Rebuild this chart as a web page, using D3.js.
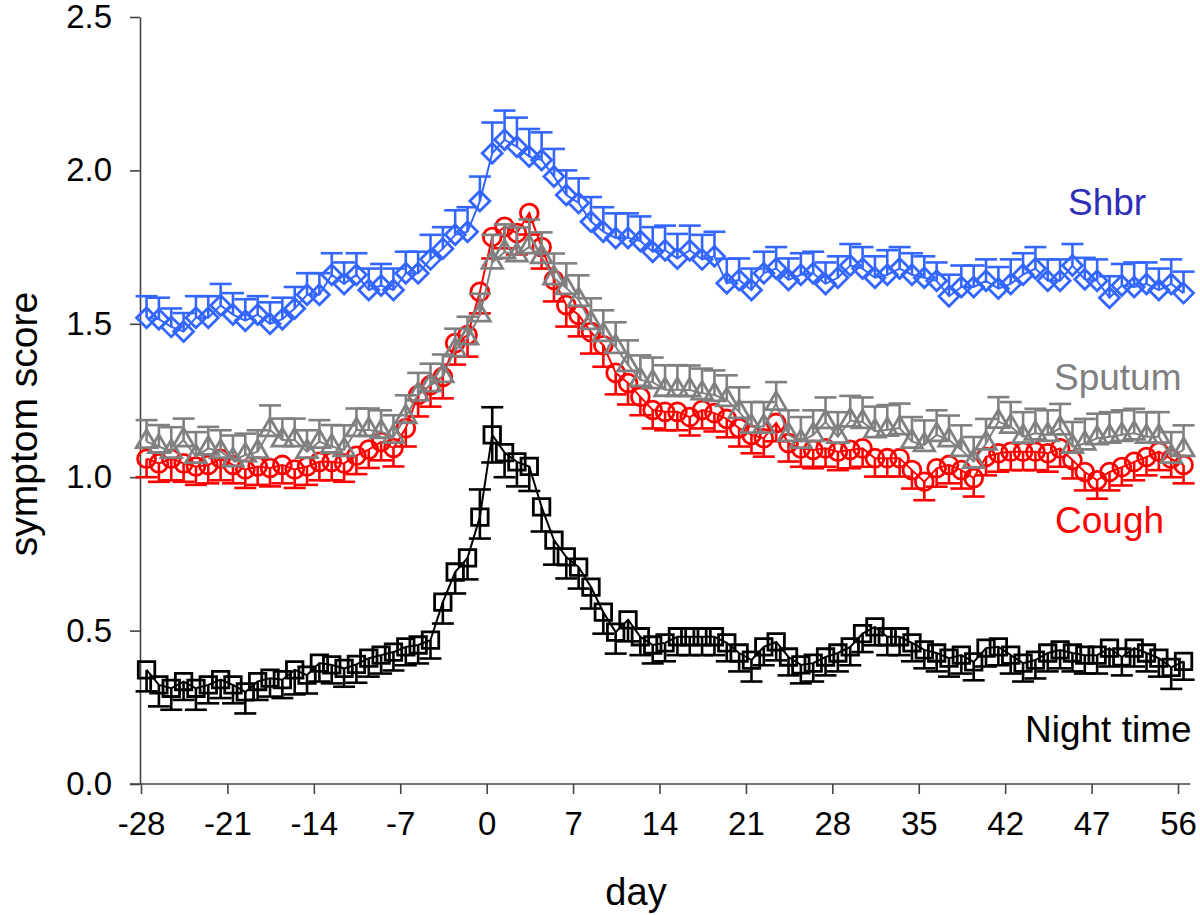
<!DOCTYPE html>
<html>
<head>
<meta charset="utf-8">
<script src="https://cdn.jsdelivr.net/npm/d3@7"></script>
<style>
  html, body { margin: 0; padding: 0; background: #fff; }
  svg { display: block; font-family: "Liberation Sans", Arial, sans-serif; }
</style>
</head>
<body>
<svg id="chart" width="1200" height="915"></svg>
<script>
// ---- data ----
const days = [-28,-27,-26,-25,-24,-23,-22,-21,-20,-19,-18,-17,-16,-15,-14,-13,-12,-11,-10,-9,-8,-7,-6,-5,-4,-3,-2,-1,
  0,1,2,3,4,5,6,7,8,9,10,11,12,13,14,15,16,17,18,19,20,21,22,23,24,25,26,27,28,29,30,31,32,33,34,35,36,37,38,39,40,
  41,42,43,44,45,46,47,48,49,50,51,52,53,54,55,56];

const xTickValues = [-28,-21,-14,-7,0,7,14,21,28,35,42,49,56];
const xTickLabels = ["-28","-21","-14","-7","0","7","14","21","28","35","42","47","56"];
const yTickValues = [0,0.5,1.0,1.5,2.0,2.5];

const shbr = [1.52,1.515,1.49,1.475,1.52,1.52,1.56,1.53,1.51,1.53,
  1.50,1.515,1.55,1.595,1.595,1.66,1.63,1.66,1.61,1.625,
  1.61,1.665,1.665,1.71,1.745,1.79,1.80,1.90,2.056,2.10,
  2.077,2.045,2.034,1.98,1.92,1.894,1.833,1.80,1.78,1.78,
  1.77,1.735,1.74,1.713,1.74,1.71,1.72,1.632,1.643,1.61,
  1.665,1.68,1.643,
  1.66,1.665,1.63,1.65,1.69,1.68,1.65,1.66,1.68,1.66,1.65,1.64,1.59,1.62,1.62,1.64,1.615,1.63,1.66,1.68,
  1.64,1.64,1.69,1.645,1.64,1.585,1.625,1.62,1.63,1.61,1.63,1.60];
const shbrErr = [0.07,0.07,0.06,0.06,0.07,0.07,0.07,0.07,0.07,0.06,
  0.07,0.07,0.07,0.07,0.07,0.07,0.07,0.07,0.07,0.07,
  0.07,0.07,0.07,0.08,0.07,0.08,0.08,0.08,0.10,0.095,
  0.095,0.09,0.09,0.09,0.08,0.08,0.08,0.08,0.08,0.08,
  0.08,0.08,0.08,0.08,0.08,0.08,0.08,0.08,0.07,0.07,
  0.07,0.07,0.07,
  0.07,0.07,0.07,0.07,0.07,0.07,0.07,0.08,0.07,0.07,0.07,0.06,0.07,0.07,0.07,0.07,0.07,0.08,0.07,0.07,
  0.07,0.07,0.07,0.07,0.07,0.07,0.07,0.08,0.07,0.07,0.08,0.07];

const sputum = [1.116,1.10,1.083,1.121,1.067,1.094,1.083,1.056,1.072,1.083,
  1.154,1.121,1.121,1.083,1.116,1.10,1.089,1.154,1.154,1.148,
  1.132,1.197,1.27,1.30,1.33,1.414,1.453,1.528,1.70,1.734,
  1.724,1.75,1.718,1.649,1.617,1.578,1.503,1.464,1.425,1.366,
  1.317,1.31,1.285,1.285,1.284,1.274,1.268,1.252,1.213,1.165,
  1.165,1.24,1.138,1.116,1.138,1.18,1.132,1.185,1.18,1.15,
  1.155,1.16,1.116,1.105,1.138,1.121,1.089,1.051,1.11,1.181,
  1.165,1.132,1.143,1.138,1.159,1.10,1.11,1.127,1.132,1.138,
  1.143,1.132,1.132,1.067,1.089];
const sputumErr = [0.07,0.07,0.08,0.07,0.08,0.07,0.07,0.08,0.07,0.07,
  0.08,0.07,0.07,0.07,0.07,0.07,0.08,0.07,0.07,0.07,
  0.07,0.07,0.07,0.07,0.07,0.07,0.07,0.07,0.09,0.09,
  0.09,0.09,0.08,0.08,0.08,0.08,0.08,0.08,0.08,0.08,
  0.08,0.08,0.08,0.08,0.08,0.08,0.08,0.08,0.08,0.08,
  0.08,0.07,0.08,0.08,0.08,0.08,0.08,0.08,0.08,0.08,
  0.08,0.08,0.08,0.08,0.08,0.08,0.08,0.08,0.08,0.08,
  0.08,0.08,0.08,0.08,0.08,0.08,0.08,0.08,0.08,0.08,
  0.08,0.08,0.08,0.08,0.08];

const cough = [1.06,1.045,1.06,1.045,1.035,1.04,1.06,1.04,1.025,1.035,
  1.03,1.04,1.025,1.035,1.05,1.05,1.045,1.07,1.09,1.115,
  1.095,1.16,1.268,1.30,1.327,1.437,1.463,1.604,1.783,1.816,
  1.796,1.861,1.75,1.643,1.561,1.529,1.473,1.43,1.34,1.307,
  1.262,1.219,1.213,1.213,1.196,1.219,1.209,1.19,1.16,1.138,
  1.127,1.177,1.111,1.094,1.089,1.094,1.083,1.089,1.094,1.062,
  1.062,1.062,1.023,0.985,1.029,1.04,1.023,0.997,1.066,1.078,
  1.083,1.083,1.083,1.078,1.094,1.056,1.017,0.99,1.017,1.033,
  1.05,1.066,1.083,1.06,1.04];
const coughErr = [0.06,0.06,0.07,0.06,0.06,0.06,0.07,0.06,0.06,0.06,
  0.06,0.06,0.06,0.06,0.06,0.06,0.06,0.06,0.06,0.06,
  0.06,0.06,0.07,0.07,0.07,0.07,0.07,0.07,0.07,0.07,
  0.07,0.07,0.07,0.07,0.07,0.07,0.07,0.07,0.07,0.07,
  0.06,0.06,0.06,0.06,0.06,0.06,0.06,0.06,0.06,0.06,
  0.06,0.06,0.06,0.06,0.06,0.06,0.06,0.06,0.06,0.06,
  0.06,0.06,0.06,0.06,0.06,0.06,0.06,0.06,0.06,0.06,
  0.06,0.06,0.06,0.06,0.06,0.06,0.06,0.06,0.06,0.06,
  0.06,0.06,0.06,0.06,0.06];

const night = [0.372,0.323,0.312,0.334,0.312,0.323,0.34,0.323,0.30,0.334,
  0.345,0.34,0.372,0.355,0.394,0.388,0.377,0.39,0.41,0.42,
  0.43,0.447,0.453,0.469,0.593,0.691,0.737,0.87,1.138,1.08,
  1.05,1.035,0.903,0.795,0.74,0.707,0.642,0.56,0.495,0.535,
  0.48,0.453,0.46,0.48,0.48,0.48,0.48,0.46,0.427,0.404,
  0.447,0.463,0.414,0.388,0.394,0.414,0.427,0.447,0.49,0.512,
  0.48,0.48,0.46,0.437,0.427,0.41,0.42,0.398,0.443,0.447,
  0.42,0.394,0.404,0.427,0.437,0.427,0.42,0.42,0.443,0.414,
  0.443,0.427,0.41,0.38,0.40];
const nightErr = [0.07,0.07,0.07,0.06,0.07,0.06,0.06,0.06,0.07,0.06,
  0.06,0.06,0.08,0.06,0.06,0.06,0.06,0.06,0.06,0.06,
  0.06,0.06,0.06,0.06,0.07,0.07,0.07,0.07,0.09,0.08,
  0.08,0.08,0.08,0.08,0.07,0.07,0.07,0.07,0.07,0.07,
  0.06,0.06,0.06,0.06,0.06,0.06,0.06,0.06,0.06,0.07,
  0.06,0.06,0.06,0.06,0.06,0.06,0.06,0.06,0.06,0.06,
  0.06,0.06,0.06,0.06,0.06,0.06,0.06,0.06,0.06,0.06,
  0.06,0.06,0.06,0.06,0.06,0.06,0.06,0.06,0.06,0.06,
  0.06,0.06,0.06,0.07,0.06];
const nightErrUpDays = [-1, 0];
const nightErrUpValue = [0.09, 0.09];

// ---- layout ----
const svg = d3.select("#chart");
const x = d3.scaleLinear().domain([-28, 56]).range([141, 1178]);
const y = d3.scaleLinear().domain([0, 2.5]).range([784, 17]);
const pointOffset = 0.45;
const px = d => x(d + pointOffset);

const nightErrUp = days.map(d => {
  const k = nightErrUpDays.indexOf(d);
  return k >= 0 ? nightErrUpValue[k] : 0;
});

const series = [
  {name: "Night time", vals: night, err: nightErr, errUp: nightErrUp, dir: -1, color: "#000000", shape: "square", label: {color: "#000000", x: 1025, y: 742}},
  {name: "Cough", vals: cough, err: coughErr, dir: -1, color: "#ff0000", shape: "circle", label: {color: "#ff0000", x: 1055, y: 533}},
  {name: "Sputum", vals: sputum, err: sputumErr, dir: 1, color: "#808080", shape: "triangle", label: {color: "#808080", x: 1054, y: 390}},
  {name: "Shbr", vals: shbr, err: shbrErr, dir: 1, color: "#3366ff", shape: "diamond", label: {color: "#2e2eb8", x: 1068, y: 215}}
];

// axes
const yAxis = d3.axisLeft(y).tickValues(yTickValues).tickFormat(d3.format(".1f"))
  .tickSize(10).tickSizeOuter(0).tickPadding(18);
const gy = svg.append("g").attr("transform", `translate(${x(-28) - 1},0)`).call(yAxis);
gy.selectAll("text").attr("font-size", 33).attr("fill", "#000")
  .attr("font-family", "'Liberation Sans', Arial, sans-serif");

const xAxis = d3.axisBottom(x).tickValues(xTickValues).tickFormat((d, i) => xTickLabels[i])
  .tickSize(10).tickSizeOuter(0).tickPadding(18);
const gx = svg.append("g").attr("transform", `translate(0,${y(0)})`).call(xAxis);
gx.select(".domain").attr("d", `M${x(-28.9)},0H${x(57)}`);
gx.selectAll("text").attr("font-size", 33).attr("fill", "#000")
  .attr("font-family", "'Liberation Sans', Arial, sans-serif");

[gx, gy].forEach(g => {
  g.selectAll(".domain, .tick line").attr("stroke", "#444").attr("stroke-width", 1.6);
});

// axis titles
svg.append("text").attr("x", 636).attr("y", 905).attr("text-anchor", "middle")
  .attr("font-size", 38).attr("fill", "#000").text("day");
svg.append("text").attr("transform", "translate(37,424) rotate(-90)").attr("text-anchor", "middle")
  .attr("font-size", 39).attr("fill", "#000").text("symptom score");

// markers
const markerPath = {
  square: d3.symbol().type(d3.symbolSquare).size(272),
  circle: d3.symbol().type(d3.symbolCircle).size(250),
  triangle: d3.symbol().type(d3.symbolTriangle).size(185)
};
function diamondPath(r) {
  return `M0,${-r}L${r},0L0,${r}L${-r},0Z`;
}

const line = d3.line().x((v, i) => px(days[i])).y(v => y(v));
const capW = 22;

series.forEach(s => {
  const g = svg.append("g").attr("class", "series");
  // error bars
  const eb = g.append("g").attr("stroke", s.color).attr("stroke-width", 2.6).attr("fill", "none");
  days.forEach((d, i) => {
    const cx = px(d);
    const v = s.vals[i];
    const bars = [s.dir * s.err[i]];
    if (s.errUp && s.errUp[i] > 0) bars.push(s.errUp[i]);
    bars.forEach(e => {
      const ye = y(v + e);
      eb.append("line").attr("x1", cx).attr("x2", cx).attr("y1", y(v)).attr("y2", ye);
      eb.append("line").attr("x1", cx - capW / 2).attr("x2", cx + capW / 2).attr("y1", ye).attr("y2", ye);
    });
  });
  // connecting line
  g.append("path").attr("d", line(s.vals)).attr("fill", "none")
    .attr("stroke", s.color).attr("stroke-width", 2);
  // markers
  g.selectAll("path.mk").data(s.vals).enter().append("path").attr("class", "mk")
    .attr("transform", (v, i) => `translate(${px(days[i])},${y(v)})`)
    .attr("d", s.shape === "diamond" ? diamondPath(10) : markerPath[s.shape]())
    .attr("fill", "none").attr("stroke", s.color).attr("stroke-width", 2.8);
  // label
  svg.append("text").attr("x", s.label.x).attr("y", s.label.y)
    .attr("font-size", 37).attr("fill", s.label.color).text(s.name);
});
</script>
</body>
</html>
